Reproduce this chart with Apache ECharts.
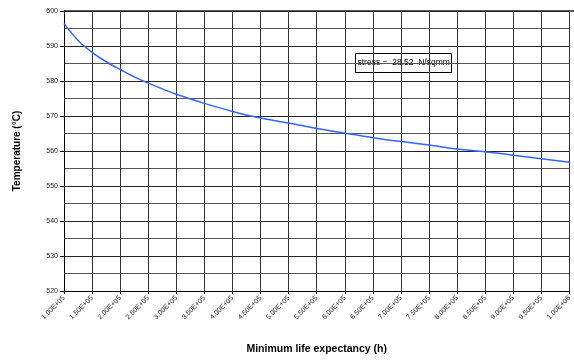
<!DOCTYPE html>
<html><head><meta charset="utf-8">
<script src="https://cdn.jsdelivr.net/npm/echarts@6/dist/echarts.min.js"></script>
<style>html,body{margin:0;padding:0;background:#fff}#c{width:574px;height:360px}</style>
</head><body><div id="c"></div>
<script>
// Data
const lifeHours = [100000,125000,150000,175000,200000,225000,250000,300000,350000,400000,450000,500000,550000,600000,650000,700000,750000,800000,850000,900000,950000,1000000];
const temperature = [596.4,591.6,588.2,585.5,583.3,581.2,579.4,576.2,573.6,571.3,569.4,568.0,566.4,565.1,563.8,562.7,561.7,560.6,559.8,558.8,557.8,556.8];
const yTicks = [520,530,540,550,560,570,580,590,600];
const annotationText = 'stress =  28.52  N/sqmm';
const xTitle = 'Minimum life expectancy (h)';
const yTitle = 'Temperature (°C)';

function fmtExp(v){
  const s = v.toExponential(2).toUpperCase();
  const m = s.match(/^(-?[\d.]+)E([+-])(\d+)$/);
  if(!m) return s;
  return m[1] + 'E' + m[2] + (m[3].length<2 ? '0'+m[3] : m[3]);
}

const chart = echarts.init(document.getElementById('c'), null, {renderer:'canvas'});
const font = 'Liberation Sans, Arial, sans-serif';
chart.setOption({
  animation:false,
  backgroundColor:'#fff',
  grid:{left:64, top:11, right:0, bottom:68, containLabel:false},
  xAxis:{
    type:'value', min:100000, max:1000000, interval:50000,
    name:xTitle, nameLocation:'middle', nameGap:53,
    nameTextStyle:{fontFamily:font, fontWeight:'bold', fontSize:10.5, color:'#000'},
    axisLine:{show:true, lineStyle:{color:'#000', width:1}},
    axisTick:{show:true, length:3, lineStyle:{color:'#000'}},
    axisLabel:{rotate:45, fontSize:7, fontFamily:font, color:'#222', margin:6, formatter:fmtExp, showMaxLabel:true, showMinLabel:true},
    splitLine:{show:true, lineStyle:{color:'#333', width:1}}
  },
  yAxis:{
    type:'value', min:yTicks[0], max:yTicks[yTicks.length-1], interval:10,
    name:yTitle, nameLocation:'middle', nameGap:42, nameRotate:90,
    nameTextStyle:{fontFamily:font, fontWeight:'bold', fontSize:10, color:'#000'},
    axisLine:{show:true, lineStyle:{color:'#000', width:1}},
    axisTick:{show:true, length:4, lineStyle:{color:'#000'}},
    axisLabel:{fontSize:7, fontFamily:font, color:'#222', margin:6},
    splitLine:{show:true, lineStyle:{color:'#222', width:1}},
    minorTick:{show:false, splitNumber:2},
    minorSplitLine:{show:true, lineStyle:{color:'#555', width:1}}
  },
  series:[{
    type:'line', data:lifeHours.map((x,i)=>[x,temperature[i]]),
    smooth:0.3, showSymbol:false, symbol:'none',
    lineStyle:{color:'#3366ff', width:1.5}
  }],
  graphic:[{
    type:'group', left:355, top:53,
    children:[
      {type:'rect', shape:{x:0,y:0,width:96,height:19}, style:{fill:'#fff', stroke:'#000', lineWidth:1}},
      {type:'text', x:2, y:9.5, style:{text:annotationText, fontSize:8.5, fontFamily:font, fill:'#000', verticalAlign:'middle'}}
    ]
  },{
    type:'line', shape:{x1:64,y1:11,x2:574,y2:11}, style:{stroke:'#222', lineWidth:1.5}
  }]
});
</script></body></html>
